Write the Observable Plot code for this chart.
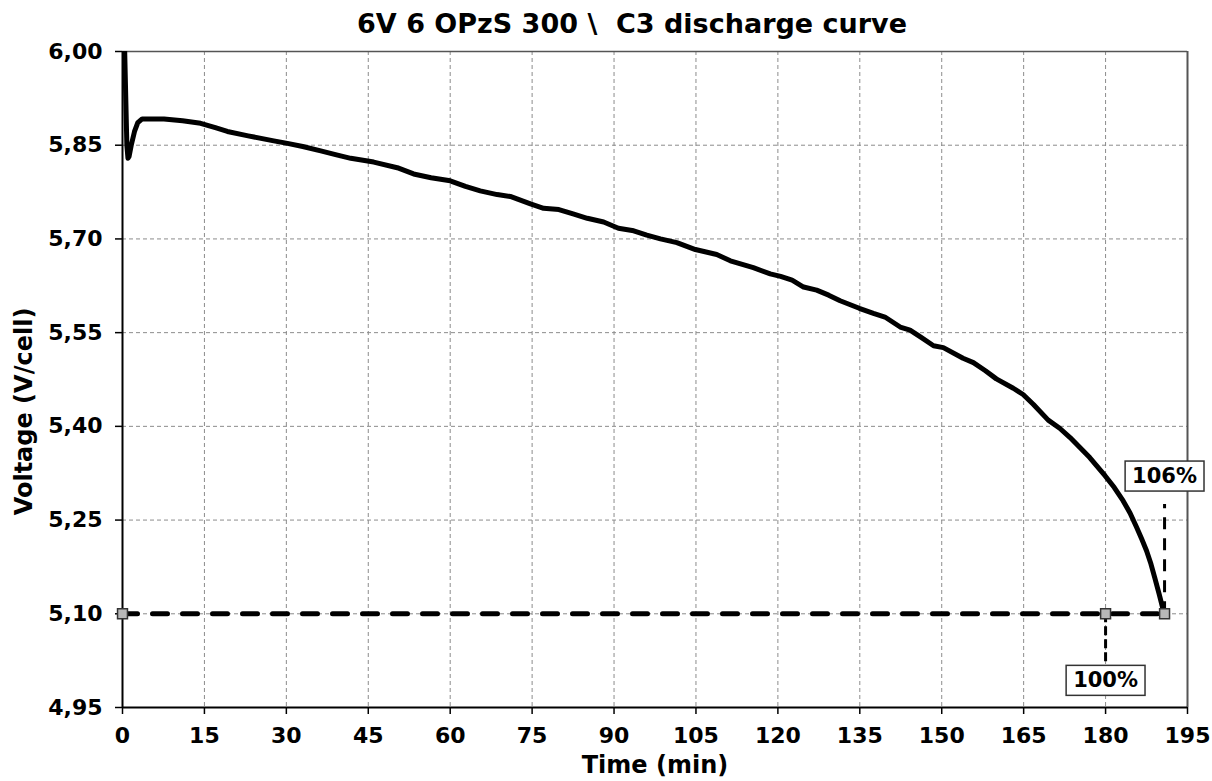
<!DOCTYPE html>
<html>
<head>
<meta charset="utf-8">
<script src="https://cdn.jsdelivr.net/npm/d3@7"></script>
<script src="https://cdn.jsdelivr.net/npm/@observablehq/plot@0.6"></script>
<style>
  body { margin: 0; background: white; }
  #title {
    font-family: "DejaVu Sans", Verdana, sans-serif;
    font-weight: bold;
    font-size: 27px;
    white-space: pre;
    text-align: center;
    height: 40px;
    line-height: 40px;
    padding-top: 4px;
    padding-left: 52px;
    width: 1160px;
    color: black;
  }
</style>
</head>
<body>
<div id="title">6V 6 OPzS 300 \  C3 discharge curve</div>
<div id="chart"></div>
<script>
// Discharge curve (time in minutes, voltage)
const times = [0, 0.4, 0.8, 1.0, 1.2, 1.6, 2.2, 2.8, 3.6, 7.6, 11, 14.3, 17, 19.2, 23, 27.7, 30.2, 33, 36.3, 39, 41.8, 46, 50.3, 53.3, 56.5, 60, 62.8, 65.5, 68.6, 71, 74.7, 77.1, 79.9, 82.5, 85.1, 88.1, 90.8, 93.6, 96, 98.5, 101.5, 104.9, 108.8, 111.3, 115.5, 118.6, 120.5, 122.6, 124.7, 127.1, 129.3, 131.4, 134.9, 137.5, 139.6, 142.4, 144.2, 146.3, 148.5, 150.3, 153.9, 155.8, 158, 160, 163.1, 164.9, 166.8, 169.5, 171.6, 173.5, 175.3, 177.1, 179.9, 181.6, 183.2, 184.5, 185.7, 186.6, 187.5, 188.3, 189, 189.8, 190.5, 190.8];
const volts = [6.15, 6.00, 5.85, 5.829, 5.832, 5.85, 5.872, 5.886, 5.892, 5.892, 5.889, 5.885, 5.878, 5.872, 5.865, 5.857, 5.853, 5.848, 5.841, 5.835, 5.829, 5.823, 5.814, 5.804, 5.798, 5.793, 5.784, 5.777, 5.771, 5.768, 5.756, 5.749, 5.747, 5.740, 5.733, 5.727, 5.717, 5.713, 5.706, 5.700, 5.694, 5.683, 5.675, 5.665, 5.654, 5.644, 5.640, 5.634, 5.623, 5.618, 5.610, 5.601, 5.589, 5.581, 5.575, 5.559, 5.554, 5.542, 5.529, 5.526, 5.509, 5.502, 5.489, 5.476, 5.461, 5.451, 5.435, 5.410, 5.397, 5.382, 5.366, 5.350, 5.321, 5.302, 5.281, 5.261, 5.238, 5.220, 5.201, 5.180, 5.158, 5.132, 5.108, 5.100];

// Cut-off voltage and capacity markers
const cutoffVoltage = 5.10;
const markerTimes = [0, 180, 190.8];
const labelTexts = ["100%", "106%"];
const labelTimes = [180, 190.8];
const labelVolts = [4.993, 5.32];
const connectorEnds = [5.02, 5.275];

// Axis ticks
const xTicks = [0, 15, 30, 45, 60, 75, 90, 105, 120, 135, 150, 165, 180, 195];
const yTicks = [4.95, 5.10, 5.25, 5.40, 5.55, 5.70, 5.85, 6.00];

const curve = times.map((t, i) => ({t, v: volts[i]}));
const cutoff = [{t: markerTimes[0], v: cutoffVoltage}, {t: markerTimes[2], v: cutoffVoltage}];
const markers = markerTimes.map(t => ({t, v: cutoffVoltage}));
const labels = labelTexts.map((s, i) => ({t: labelTimes[i], v: labelVolts[i], s}));
const connectors = labelTimes.map((t, i) => ({t, v1: cutoffVoltage, v2: connectorEnds[i]}));

const font = "DejaVu Sans, Verdana, sans-serif";
const gridStyle = {stroke: "#8c8c8c", strokeOpacity: 1, strokeWidth: 1, strokeDasharray: "4,3"};

const svg = Plot.plot({
  width: 1212,
  height: 737,
  marginTop: 7,
  marginBottom: 74,
  marginLeft: 122,
  marginRight: 25,
  style: {fontFamily: font, fontWeight: "bold", fontSize: "22px", background: "white", color: "black", overflow: "visible"},
  x: {domain: [0, 195]},
  y: {domain: [4.95, 6.00]},
  marks: [
    Plot.gridX(xTicks.slice(1, -1), gridStyle),
    Plot.gridY(yTicks.slice(1, -1), gridStyle),
    Plot.ruleY([6.00], {stroke: "#555", strokeWidth: 1.5}),
    Plot.ruleX([195], {stroke: "#555", strokeWidth: 2}),
    Plot.axisX(xTicks, {tickSize: 7, tickPadding: 13, label: null, fontSize: 22, stroke: "black", strokeWidth: 1.5}),
    Plot.axisY(yTicks, {tickSize: 7, tickPadding: 13, label: null, fontSize: 22, tickFormat: d => d.toFixed(2).replace(".", ","), stroke: "black", strokeWidth: 1.5}),
    Plot.ruleX([0], {stroke: "black", strokeWidth: 2}),
    Plot.ruleY([4.95], {stroke: "black", strokeWidth: 2}),
    Plot.line(cutoff, {x: "t", y: "v", stroke: "black", strokeWidth: 5, strokeDasharray: "15,15"}),
    Plot.line(curve, {x: "t", y: "v", stroke: "black", strokeWidth: 5, clip: true, strokeLinejoin: "round"}),
    Plot.ruleX(connectors.slice(0, 1), {x: "t", y1: "v1", y2: "v2", stroke: "black", strokeWidth: 3, strokeDasharray: "9,4"}),
    Plot.ruleX(connectors.slice(1), {x: "t", y1: "v1", y2: "v2", stroke: "black", strokeWidth: 3, strokeDasharray: "12,9"}),
    Plot.dot(markers, {x: "t", y: "v", symbol: "square", r: 5.6, fill: "#b8b8b8", stroke: "#333", strokeWidth: 1.5}),
    Plot.text(labels, {x: "t", y: "v", text: "s", fontSize: 21, fontWeight: "bold", lineAnchor: "middle", textAnchor: "middle", fill: "black"}),
    Plot.text(["Time (min)"], {text: d => d, frameAnchor: "bottom", dy: 58, fontSize: 24, fontWeight: "bold", lineAnchor: "middle", textAnchor: "middle"}),
    Plot.text(["Voltage (V/cell)"], {text: d => d, frameAnchor: "left", dx: -98, dy: 32, rotate: -90, fontSize: 24, fontWeight: "bold", lineAnchor: "middle", textAnchor: "middle"})
  ]
});
document.getElementById("chart").append(svg);

// draw boxes behind the percentage labels
svg.querySelectorAll("text").forEach(el => {
  if (labelTexts.includes(el.textContent)) {
    const b = el.getBBox();
    const ns = "http://www.w3.org/2000/svg";
    const r = document.createElementNS(ns, "rect");
    const padX = 7, padY = 3;
    r.setAttribute("x", b.x - padX);
    r.setAttribute("y", b.y - padY);
    r.setAttribute("width", b.width + 2 * padX);
    r.setAttribute("height", b.height + 2 * padY);
    r.setAttribute("fill", "white");
    r.setAttribute("stroke", "#333");
    r.setAttribute("stroke-width", "1.5");
    const t = el.getAttribute("transform");
    if (t) r.setAttribute("transform", t);
    el.parentNode.insertBefore(r, el);
  }
});
</script>
</body>
</html>
